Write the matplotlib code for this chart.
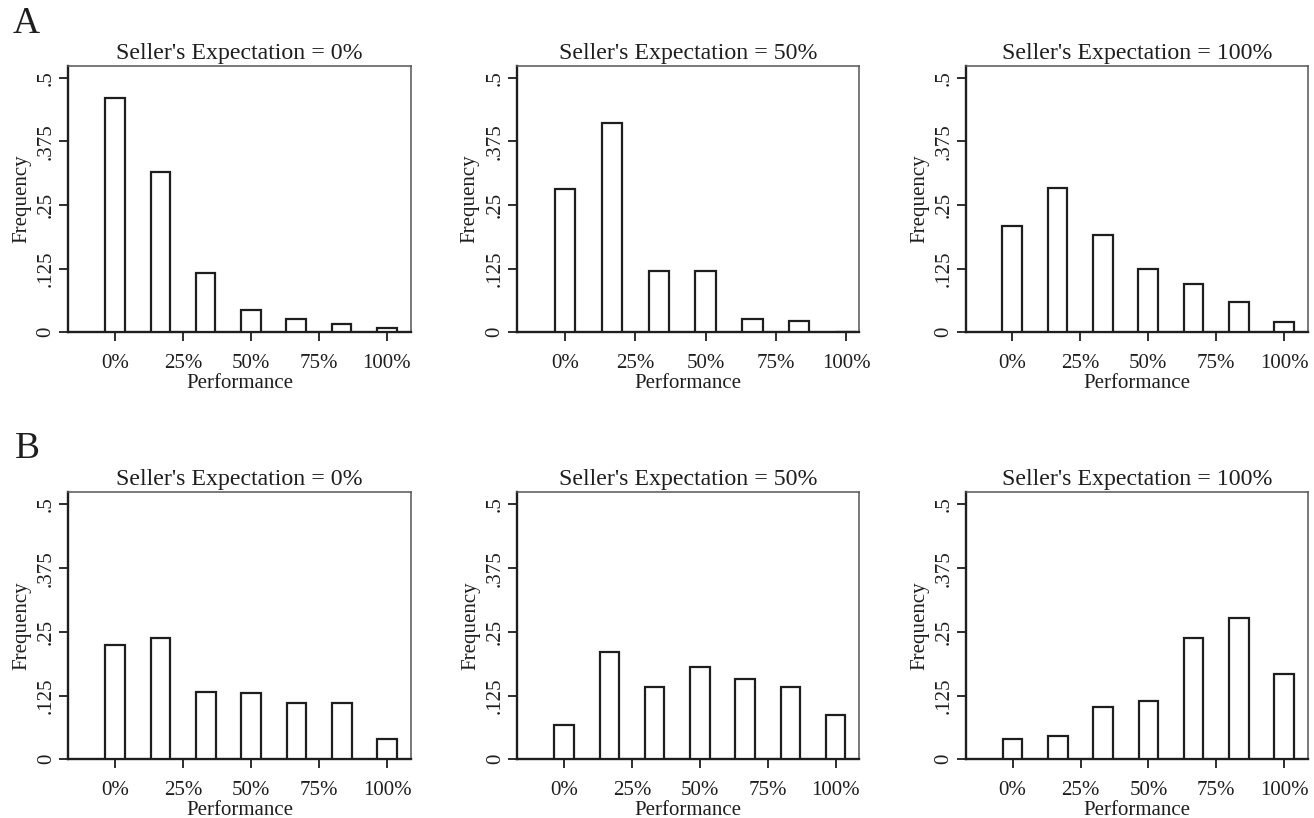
import matplotlib
matplotlib.use('Agg')
import matplotlib.pyplot as plt

plt.rcParams['font.family'] = ['Liberation Serif', 'DejaVu Serif']

# performance levels (share of task completed) and observed frequencies
perf_levels = [0, 1/6, 2/6, 3/6, 4/6, 5/6, 1]
expect_titles = ["Seller's Expectation = 0%",
                 "Seller's Expectation = 50%",
                 "Seller's Expectation = 100%"]

freq_A_exp0 = [0.460, 0.314, 0.116, 0.044, 0.026, 0.016, 0.009]
freq_A_exp50 = [0.282, 0.411, 0.121, 0.121, 0.026, 0.022, 0.0]
freq_A_exp100 = [0.209, 0.283, 0.192, 0.124, 0.095, 0.060, 0.020]

freq_B_exp0 = [0.224, 0.237, 0.133, 0.130, 0.110, 0.110, 0.040]
freq_B_exp50 = [0.067, 0.211, 0.142, 0.181, 0.158, 0.142, 0.086]
freq_B_exp100 = [0.039, 0.045, 0.103, 0.115, 0.237, 0.278, 0.167]

x_ticks = [0, 0.25, 0.5, 0.75, 1.0]
x_ticklabels = ['0%', '25%', '50%', '75%', '100%']
y_ticks = [0, 0.125, 0.25, 0.375, 0.5]
y_ticklabels = ['0', '.125', '.25', '.375', '.5']

W, H = 1314, 818
fig = plt.figure(figsize=(W / 100, H / 100), dpi=100)
fig.patch.set_facecolor('white')

ink = '#1e1e1e'

# (left, right, top, bottom) in pixels for each panel
boxes = {
    ('A', 0): (68, 411, 66, 332.3),
    ('A', 1): (516.7, 859, 66, 332.3),
    ('A', 2): (966, 1307.7, 66, 332.3),
    ('B', 0): (68.3, 410.7, 491.7, 759.3),
    ('B', 1): (517.3, 859.3, 491.7, 759.3),
    ('B', 2): (966, 1307.7, 491.7, 759.3),
}
xlims = {
    ('A', 0): (-0.173, 1.089),
    ('A', 1): (-0.172, 1.046),
    ('A', 2): (-0.170, 1.087),
    ('B', 0): (-0.172, 1.086),
    ('B', 1): (-0.172, 1.087),
    ('B', 2): (-0.172, 1.087),
}
ytops = {'A': 0.523, 'B': 0.525}

panels = {
    ('A', 0): freq_A_exp0, ('A', 1): freq_A_exp50, ('A', 2): freq_A_exp100,
    ('B', 0): freq_B_exp0, ('B', 1): freq_B_exp50, ('B', 2): freq_B_exp100,
}

for (row, col), freqs in panels.items():
    l, r, t, b = boxes[(row, col)]
    ax = fig.add_axes([l / W, 1 - b / H, (r - l) / W, (b - t) / H])
    ax.bar(perf_levels, freqs, width=0.072, facecolor='white',
           edgecolor=ink, linewidth=1.6, zorder=3)
    ax.set_xlim(*xlims[(row, col)])
    ax.set_ylim(0, ytops[row])

    ax.set_xticks(x_ticks)
    ax.set_xticklabels(x_ticklabels, fontsize=15, color=ink)
    ax.set_yticks(y_ticks)
    ax.set_yticklabels(y_ticklabels, fontsize=15, color=ink,
                       rotation=90, va='center')
    ax.tick_params(axis='both', direction='out', length=6.5, width=1.3,
                   color=ink)
    ax.tick_params(axis='x', pad=9)
    ax.tick_params(axis='y', pad=2.5)

    for side in ['left', 'bottom']:
        ax.spines[side].set_linewidth(1.7)
        ax.spines[side].set_color(ink)
    for side in ['top', 'right']:
        ax.spines[side].set_linewidth(1.1)
        ax.spines[side].set_color('#555555')

    ax.set_title(expect_titles[col], fontsize=17.2, color=ink, pad=5)
    ax.set_xlabel('Performance', fontsize=15, color=ink, labelpad=1)
    ax.set_ylabel('Frequency', fontsize=15, color=ink, labelpad=4)

fig.text(13 / W, 1 - 33 / H, 'A', fontsize=27, color=ink, va='baseline')
fig.text(15 / W, 1 - 458 / H, 'B', fontsize=27, color=ink, va='baseline')

fig.savefig('out.png', dpi=100, facecolor='white')
